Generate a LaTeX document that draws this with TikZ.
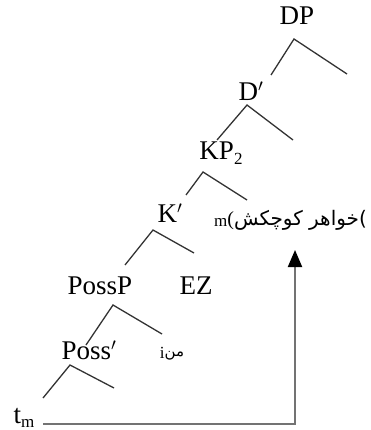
\documentclass[tikz,border=0pt]{standalone}
\usepackage{fontspec}
\setmainfont{Liberation Serif}
\newfontfamily\arabicfont[Script=Arabic]{DejaVu Sans}
\TeXXeTstate=1
\usetikzlibrary{arrows.meta}
\tikzset{
  lbl/.style={inner sep=0pt, font=\fontsize{27}{30}\selectfont},
  small/.style={inner sep=0pt},
  branch/.style={draw=black!80, line width=1.3pt},
  movearrow/.style={draw=black!55, line width=2pt, -{Triangle[length=17pt,width=14pt,color=black]}}
}
\newcommand{\subs}[1]{\raisebox{-0.35ex}{\fontsize{17}{17}\selectfont #1}}
\begin{document}
\begin{tikzpicture}[x=1pt,y=-1pt]
\useasboundingbox (0,0) rectangle (370,430);
% labels
\node[lbl] (dp) at (297,16) {DP};
\node[lbl] (dbar) at (251,91) {D$'$};
\node[lbl] (kp) at (221,153) {KP\subs{2}};
\node[lbl] (kbar) at (170,213) {K$'$};
\node[lbl] (possp) at (100,286) {PossP};
\node[lbl] (ez) at (196,286) {EZ};
\node[lbl] (possbar) at (89,350) {Poss$'$};
\node[lbl] (tm) at (24,418) {t\subs{m}};
\node[small, anchor=west] (sister) at (214,220) {\subs{m}\fontsize{20}{22}\selectfont(\arabicfont\beginR خواهر کوچکش\endR)};
\node[small] (man) at (172,354) {\subs{i}\fontsize{15}{18}\selectfont\arabicfont\beginR من\endR};
% branch coordinates
\coordinate (a1) at (294,39);  \coordinate (a1l) at (271,75);  \coordinate (a1r) at (347,74);
\coordinate (a2) at (247,105); \coordinate (a2l) at (217,140); \coordinate (a2r) at (293,140);
\coordinate (a3) at (203,172); \coordinate (a3l) at (186,195); \coordinate (a3r) at (247,200);
\coordinate (a4) at (153,230); \coordinate (a4l) at (125,265); \coordinate (a4r) at (194,253);
\coordinate (a5) at (113,305); \coordinate (a5l) at (86,345);  \coordinate (a5r) at (162,334);
\coordinate (a6) at (70,365);  \coordinate (a6l) at (43,398);  \coordinate (a6r) at (114,388);
\draw[branch] (a1l) -- (a1) -- (a1r);
\draw[branch] (a2l) -- (a2) -- (a2r);
\draw[branch] (a3l) -- (a3) -- (a3r);
\draw[branch] (a4l) -- (a4) -- (a4r);
\draw[branch] (a5l) -- (a5) -- (a5r);
\draw[branch] (a6l) -- (a6) -- (a6r);
% movement arrow
\coordinate (mstart) at (43,424);
\coordinate (mcorner) at (295,424);
\coordinate (mend) at (295,250);
\draw[movearrow] (mstart) -- (mcorner) -- (mend);
\end{tikzpicture}
\end{document}
